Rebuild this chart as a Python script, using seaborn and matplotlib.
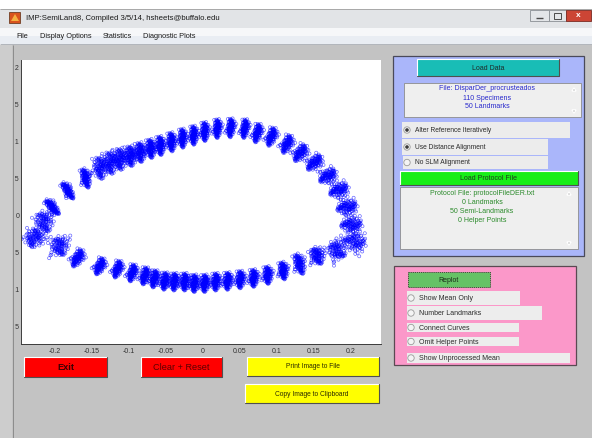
import numpy as np
import pandas as pd
import matplotlib
matplotlib.use("Agg")
import matplotlib.pyplot as plt
import seaborn as sns
from matplotlib.patches import Rectangle, Circle, Polygon
from matplotlib.transforms import Bbox

sns.set_theme(style="white")
plt.rcParams["font.family"] = ["Liberation Sans", "DejaVu Sans"]

W, H = 592, 438

# ---- mean configuration of the 50 (semi)landmarks, Procrustes coordinates ----
lm_x = [-0.214, -0.227, -0.203, -0.182, -0.158, -0.138, -0.124, -0.111, -0.097, -0.084,
        -0.070, -0.057, -0.042, -0.027, -0.012, 0.003, 0.020, 0.038, 0.057, 0.074,
        0.093, 0.114, 0.132, 0.151, 0.169, 0.184, 0.195, 0.201, 0.205, 0.182,
        0.155, 0.131, 0.109, 0.088, 0.069, 0.051, 0.034, 0.018, 0.003, -0.011,
        -0.024, -0.038, -0.051, -0.065, -0.078, -0.095, -0.115, -0.139, -0.169, -0.193]
lm_y = [-0.008, -0.030, 0.012, 0.034, 0.051, 0.065, 0.072, 0.077, 0.081, 0.086,
        0.091, 0.095, 0.100, 0.105, 0.109, 0.114, 0.118, 0.119, 0.118, 0.112,
        0.107, 0.097, 0.085, 0.072, 0.054, 0.035, 0.012, -0.012, -0.035, -0.046,
        -0.054, -0.065, -0.074, -0.080, -0.084, -0.086, -0.088, -0.089, -0.091, -0.091,
        -0.089, -0.089, -0.088, -0.085, -0.081, -0.077, -0.072, -0.068, -0.057, -0.041]
# orientation (deg) of each landmark cloud, its half length and half width
lm_angle = [120, 80, 135, 126, 107, 100, 100, 97, 97, 97,
            97, 95, 95, 93, 92, 92, 90, 88, 85, 80,
            75, 70, 60, 50, 40, 30, 20, 10, 0, 150,
            120, 110, 100, 95, 92, 90, 90, 90, 90, 90,
            90, 88, 85, 82, 80, 78, 75, 70, 65, 120]
lm_len = [0.0150, 0.0135, 0.0135, 0.0135, 0.0140, 0.0160, 0.0160, 0.0155, 0.0145, 0.0140,
          0.0135, 0.0135, 0.0135, 0.0135, 0.0135, 0.0135, 0.0135, 0.0135, 0.0135, 0.0135,
          0.0135, 0.0135, 0.0135, 0.0135, 0.0135, 0.0140, 0.0145, 0.0150, 0.0160, 0.0135,
          0.0125, 0.0149, 0.0125, 0.0125, 0.0125, 0.0125, 0.0125, 0.0125, 0.0125, 0.0125,
          0.0125, 0.0125, 0.0125, 0.0125, 0.0125, 0.0125, 0.0125, 0.0125, 0.0135, 0.0135]
lm_wid = [0.0120, 0.0130, 0.0045, 0.0045, 0.0050, 0.0095, 0.0100, 0.0095, 0.0075, 0.0065,
          0.0055, 0.0050, 0.0050, 0.0045, 0.0045, 0.0045, 0.0045, 0.0045, 0.0045, 0.0050,
          0.0055, 0.0060, 0.0068, 0.0070, 0.0078, 0.0085, 0.0090, 0.0100, 0.0120, 0.0120,
          0.0085, 0.0060, 0.0052, 0.0052, 0.0052, 0.0052, 0.0052, 0.0052, 0.0052, 0.0052,
          0.0052, 0.0052, 0.0052, 0.0052, 0.0052, 0.0052, 0.0052, 0.0055, 0.0060, 0.0120]

# ---- scores of the 110 specimens along / across each landmark's sliding axis ----
spec_u = [0.12, -0.45, 0.78, -0.21, 0.33, -0.67, 0.05, 0.91, -0.38, 0.24,
          -0.09, 0.56, -0.82, 0.17, -0.29, 0.44, -0.03, 0.69, -0.55, 0.08,
          0.37, -0.14, -0.73, 0.26, 0.61, -0.47, 0.02, -0.31, 0.85, -0.18,
          0.49, -0.61, 0.14, -0.02, 0.72, -0.39, 0.21, -0.88, 0.31, 0.06,
          -0.25, 0.53, -0.11, 0.96, -0.52, 0.19, -0.35, 0.64, -0.07, 0.28,
          -0.77, 0.41, 0.10, -0.43, 0.58, -0.16, 0.35, -0.64, 0.81, -0.23,
          0.04, -0.58, 0.47, -0.12, 0.23, -0.94, 0.66, -0.33, 0.15, -0.05,
          0.52, -0.70, 0.29, 0.01, -0.49, 0.75, -0.19, 0.39, -0.85, 0.11,
          0.59, -0.27, -0.06, 0.43, -0.41, 0.88, -0.15, 0.22, -0.62, 0.34,
          -0.36, 0.07, 0.67, -0.53, 0.18, -0.01, 0.46, -0.79, 0.27, -0.22,
          0.55, -0.10, 0.13, -0.44, 0.71, -0.30, 0.38, -0.57, 0.09, -0.17]
spec_v = [-0.31, 0.22, 0.05, -0.58, 0.41, 0.13, -0.87, 0.36, -0.04, 0.69,
          -0.18, -0.42, 0.27, 0.91, -0.66, 0.08, 0.52, -0.23, 0.16, -1.35,
          0.33, 0.74, -0.11, -0.49, 0.02, 0.58, -0.29, 1.42, -0.07, 0.45,
          -0.71, 0.19, -0.37, 0.63, 0.10, -0.95, 0.28, -0.14, 0.84, -0.52,
          0.06, -0.26, 1.18, -0.44, 0.37, -0.02, 0.56, -0.79, 0.21, -0.13,
          0.47, -1.62, 0.14, 0.31, -0.34, 0.77, -0.09, -0.61, 0.25, 0.03,
          -0.47, 0.88, -0.20, 0.40, -0.15, 0.12, -1.08, 0.54, -0.39, 0.66,
          -0.01, 0.29, -0.83, 0.17, 1.71, -0.24, 0.43, -0.57, 0.09, -0.32,
          0.72, -0.12, 0.35, -0.68, 0.04, 0.97, -0.46, 0.20, -0.27, 0.60,
          -0.05, -0.99, 0.38, 0.11, -0.41, 0.50, -0.17, 0.24, -1.24, 0.30,
          0.64, -0.21, 0.07, -0.55, 0.15, 1.29, -0.36, 0.42, -0.08, -0.74]

x_ticks = [-0.2, -0.15, -0.1, -0.05, 0, 0.05, 0.1, 0.15, 0.2]
x_tick_labels = ["-0.2", "-0.15", "-0.1", "-0.05", "0", "0.05", "0.1", "0.15", "0.2"]
y_ticks = [-0.15, -0.1, -0.05, 0, 0.05, 0.1, 0.15, 0.2]
y_tick_labels = ["-0.15", "-0.1", "-0.05", "0", "0.05", "0.1", "0.15", "0.2"]

menu_items = ["File", "Display Options", "Statistics", "Diagnostic Plots"]
data_info = ["File: DisparDer_procrusteados", "110 Specimens", "50 Landmarks"]
protocol_info = ["Protocol File: protocolFileDER.txt", "0 Landmarks",
                 "50 Semi-Landmarks", "0 Helper Points"]
align_options = ["Alter Reference Iteratively", "Use Distance Alignment", "No SLM Alignment"]
align_selected = [True, True, False]
plot_options = ["Show Mean Only", "Number Landmarks", "Connect Curves",
                "Omit Helper Points", "Show Unprocessed Mean"]

# all specimens, every landmark
u = np.array(spec_u)
v = np.array(spec_v)
rows = []
for i in range(len(lm_x)):
    a = np.deg2rad(lm_angle[i])
    px = lm_x[i] + u * lm_len[i] * np.cos(a) - v * lm_wid[i] * np.sin(a)
    py = lm_y[i] + u * lm_len[i] * np.sin(a) + v * lm_wid[i] * np.cos(a)
    rows.append(pd.DataFrame({"x": px, "y": py, "landmark": i + 1}))
points = pd.concat(rows, ignore_index=True)

# ---------------- figure / window ----------------
fig = plt.figure(figsize=(W / 100, H / 100), dpi=100)
bg = fig.add_axes([0, 0, 1, 1], zorder=0)
bg.set_xlim(0, W)
bg.set_ylim(H, 0)
bg.axis("off")


def box(x0, y0, x1, y1, fc, ec="none", lw=0.7, z=1, **kw):
    bg.add_patch(Rectangle((x0, y0), x1 - x0, y1 - y0, facecolor=fc, edgecolor=ec,
                           linewidth=lw, zorder=z, **kw))


def hline(x0, x1, y, color, lw=0.7, z=2):
    bg.plot([x0, x1], [y, y], color=color, lw=lw, zorder=z, solid_capstyle="butt")


def vline(x, y0, y1, color, lw=0.7, z=2):
    bg.plot([x, x], [y0, y1], color=color, lw=lw, zorder=z, solid_capstyle="butt")


def bevel(x0, y0, x1, y1, light="#ffffff", dark="#505050", lw=0.8, z=3):
    bg.plot([x0, x0, x1], [y1, y0, y0], color=light, lw=lw, zorder=z)
    bg.plot([x0, x1, x1], [y1, y1, y0], color=dark, lw=lw, zorder=z)


def text(x, y, s, size=5.0, color="#222222", ha="center", weight="normal", z=6):
    bg.text(x, y, s, fontsize=size, color=color, ha=ha, va="center",
            fontweight=weight, zorder=z)


def button(x0, y0, x1, y1, fc, s, size=5.0, color="#222222", weight="normal"):
    box(x0, y0, x1, y1, fc, z=2)
    bevel(x0, y0, x1, y1)
    text((x0 + x1) / 2, (y0 + y1) / 2 + 0.5, s, size=size, color=color, weight=weight)


def radio(cx, cy, on):
    bg.add_patch(Circle((cx, cy), 3.2, facecolor="#f4f4f4", edgecolor="#9a9a9a",
                        linewidth=0.6, zorder=5))
    if on:
        bg.add_patch(Circle((cx, cy), 1.8, facecolor="#3a3a3a", edgecolor="none", zorder=6))


# desktop strip, title bar and menu bar
box(0, 0, W, 9, "#ffffff", z=0)
box(0, 9, W, 28, "#e2e4e7", z=0)
hline(0, W, 9, "#a8a8a8")
box(0, 28, W, 36, "#f6f7f9", z=0)
box(0, 36, W, 44, "#e9edf3", z=0)
hline(0, W, 44, "#b0b4ba")
box(0, 44.5, W, H, "#c3c3c3", z=0)
box(0, 44.5, 12, H, "#cdcdcd", z=0)
vline(12.5, 44.5, H, "#8c8c8c")

# app icon and title
box(9, 12, 20, 23, "#d9531e", ec="#5a2a10", lw=0.5, z=2)
bg.add_patch(Polygon([[11, 21], [15, 14], [19, 21]], closed=True, facecolor="#f5b041",
                     edgecolor="none", zorder=3))
text(26, 18.5, "IMP:SemiLand8, Compiled 3/5/14, hsheets@buffalo.edu",
     size=5.6, ha="left", color="#1a1a1a")

# window controls
box(530, 9.5, 549, 21, "#e3e5e8", ec="#8a8e94", lw=0.6, z=2)
hline(536, 543, 17.5, "#4a4a4a", lw=1.0, z=3)
box(549, 9.5, 566, 21, "#e3e5e8", ec="#8a8e94", lw=0.6, z=2)
box(554, 12.5, 561, 18.5, "none", ec="#4a4a4a", lw=0.7, z=3)
box(566, 9.5, 591, 21, "#cc4535", ec="#7a2a22", lw=0.6, z=2)
text(578.5, 15.5, "x", size=6, color="white", weight="bold")

# menu bar
menu_x = [16, 40, 103, 143]
for mx, item in zip(menu_x, menu_items):
    text(mx, 36.5, item, size=5.3, ha="left", color="#1a1a1a")

# ---------------- scatter of landmark coordinates ----------------
ax = fig.add_axes([21 / W, (H - 344) / H, 360 / W, 284 / H], zorder=2)
sns.scatterplot(data=points, x="x", y="y", ax=ax, color="#0000ff", marker="o",
                s=5, linewidth=0.5, alpha=0.6, legend=False)
for coll in ax.collections:
    coll.set_facecolor("none")
    coll.set_edgecolor((0.0, 0.0, 1.0, 0.62))
ax.set_xlim(-0.2455, 0.2410)
ax.set_ylim(-0.1730, 0.2108)
ax.set_facecolor("white")
ax.set_xlabel("")
ax.set_ylabel("")
ax.set_xticks(x_ticks)
ax.set_xticklabels(x_tick_labels)
ax.set_yticks(y_ticks)
ax.set_yticklabels(y_tick_labels)
for side in ["top", "right"]:
    ax.spines[side].set_visible(False)
for side in ["left", "bottom"]:
    ax.spines[side].set_color("#3c3c3c")
    ax.spines[side].set_linewidth(0.7)
ax.tick_params(axis="both", direction="in", length=3, width=0.6, color="#3c3c3c",
               labelsize=5, labelcolor="#333333", pad=3)
ax.tick_params(axis="y", pad=1.2)
# the window frame hides the left part of the y tick labels
clip = Bbox.from_extents(15.0 / W, 0, 1, 1)
for t in ax.yaxis.get_major_ticks():
    t.label1.set_clip_on(True)
    t.label1.set_clip_box(fig.transFigure.transform_bbox(clip))

# ---------------- buttons under the plot ----------------
button(24, 357, 107, 377, "#ff0000", "Exit", size=6.6, color="#3a0000", weight="bold")
button(141, 357, 222, 377, "#ff0000", "Clear + Reset", size=6.6, color="#5a0000")
button(247, 357, 379, 376, "#ffff00", "Print Image to File", size=4.8, color="#2a2a00")
button(245, 384, 379, 403, "#ffff00", "Copy Image to Clipboard", size=4.8, color="#2a2a00")

# ---------------- data panel ----------------
box(393, 56, 584, 256, "#aab6fa", ec="#4a4a5a", lw=0.9, z=1)
button(417, 59, 559, 76, "#19bdb6", "Load Data", size=5.0, color="#1e2a2a")
box(404, 83, 581, 117, "#efefef", ec="#8c8c8c", lw=0.6, z=2)
bg.add_patch(Polygon([[572, 91], [576, 91], [574, 88]], closed=True, fc="#555555", zorder=4))
bg.add_patch(Polygon([[572, 110], [576, 110], [574, 113]], closed=True, fc="#555555", zorder=4))
for k, s in enumerate(data_info):
    text(487, 89 + 9 * k, s, size=5.0, color="#2828cc")

align_rows = [(402, 122, 570, 138), (402, 139, 548, 155), (403, 156, 548, 169)]
for (x0, y0, x1, y1), s, on in zip(align_rows, align_options, align_selected):
    box(x0, y0, x1, y1, "#ececec", z=2)
    radio(407, (y0 + y1) / 2, on)
    text(415, (y0 + y1) / 2 + 0.5, s, size=4.8, ha="left", color="#2a2a2a")

button(400, 171, 578, 185, "#18ee18", "Load Protocol File", size=5.0, color="#1e3a1e")
box(400, 187, 578, 249, "#efefef", ec="#8c8c8c", lw=0.6, z=2)
bg.add_patch(Polygon([[567, 195], [571, 195], [569, 192]], closed=True, fc="#555555", zorder=4))
bg.add_patch(Polygon([[567, 242], [571, 242], [569, 245]], closed=True, fc="#555555", zorder=4))
for k, s in enumerate(protocol_info):
    text(482, 193.5 + 9 * k, s, size=5.0, color="#2a8a2a")

# ---------------- display panel ----------------
box(394, 266, 576, 365, "#fb98c9", ec="#5a4a52", lw=0.9, z=1)
box(408, 272, 490, 287, "#66c266", ec="#2a4a2a", lw=0.6, z=2, linestyle=(0, (1.5, 1.0)))
text(449, 280, "Replot", size=5.0, color="#1a2a1a")
plot_rows = [(407, 291, 520, 305), (407, 306, 542, 320), (407, 323, 519, 332),
             (407, 337, 519, 346), (407, 353, 570, 363)]
for (x0, y0, x1, y1), s in zip(plot_rows, plot_options):
    box(x0, y0, x1, y1, "#ededed", z=2)
    radio(411, (y0 + y1) / 2, False)
    text(419, (y0 + y1) / 2 + 0.5, s, size=5.0, ha="left", color="#2a2a2a")

fig.savefig("out.png", dpi=100)
